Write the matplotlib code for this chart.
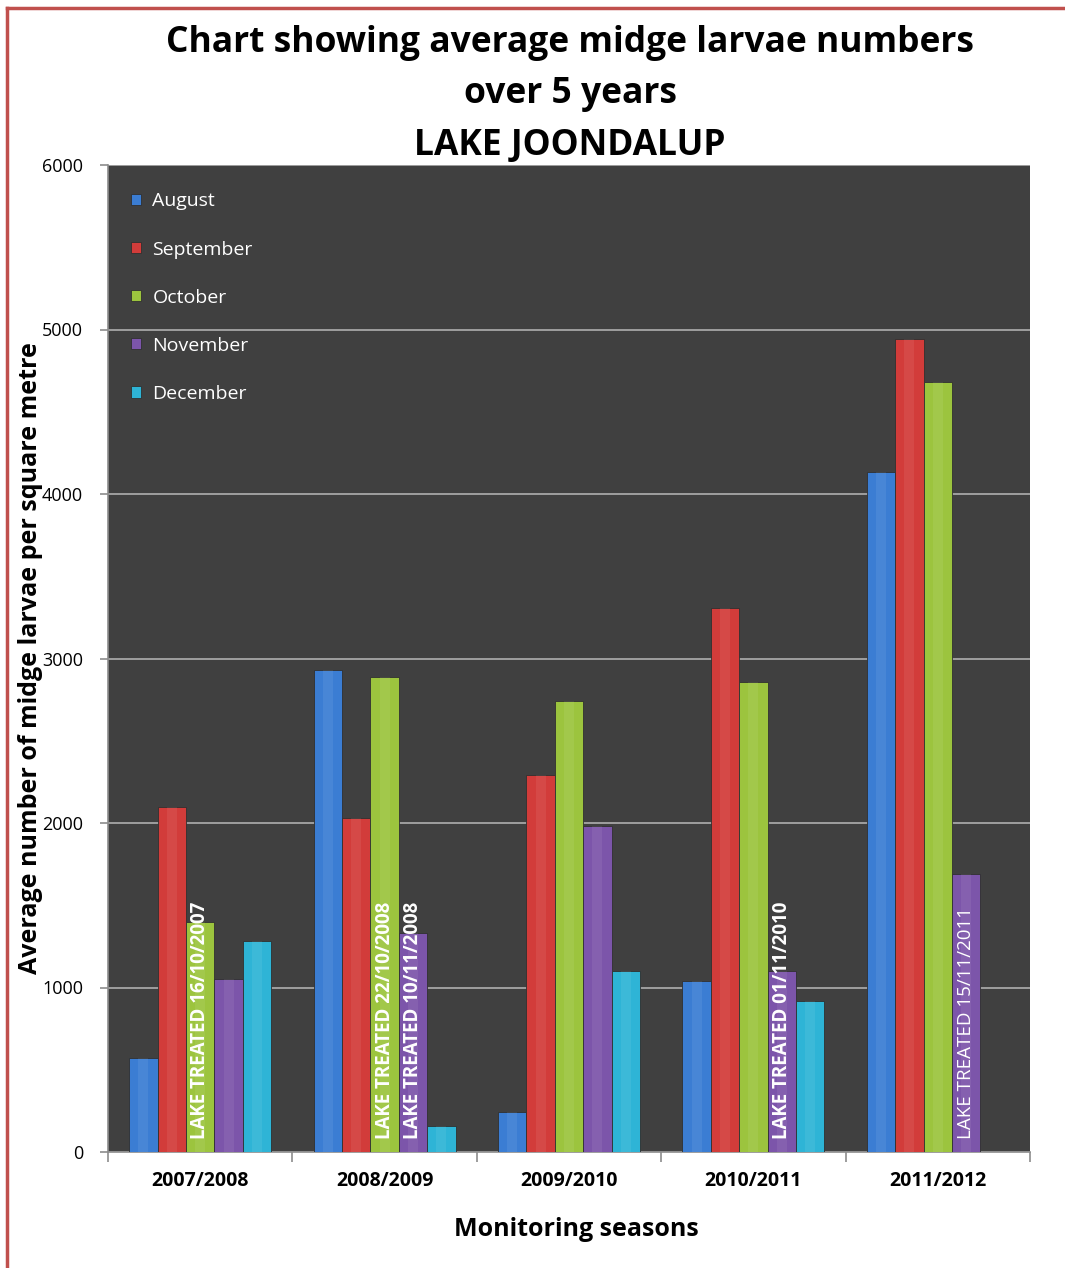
import matplotlib
matplotlib.use("Agg")
import matplotlib.pyplot as plt
import numpy as np
from matplotlib.lines import Line2D

seasons = ["2007/2008", "2008/2009", "2009/2010", "2010/2011", "2011/2012"]
months = ["August", "September", "October", "November", "December"]
august = [570, 2930, 245, 1040, 4135]
september = [2100, 2030, 2290, 3310, 4945]
october = [1400, 2890, 2740, 2855, 4680]
november = [1050, 1330, 1980, 1100, 1690]
december = [1280, 160, 1100, 920, 0]
series = [august, september, october, november, december]
colors = ["#3b7dd3", "#d23c3a", "#9cc43e", "#7c55aa", "#2eb4d6"]

# treatment notes: (season index, month index, text)
notes_season = [0, 1, 1, 3, 4]
notes_month = [2, 2, 3, 3, 3]
notes_text = ["LAKE TREATED 16/10/2007", "LAKE TREATED 22/10/2008",
              "LAKE TREATED 10/11/2008", "LAKE TREATED 01/11/2010",
              "LAKE TREATED 15/11/2011"]

FB = dict(family="Open Sans", fontweight="bold", fontstretch="condensed")

W, H = 1065, 1268
fig = plt.figure(figsize=(W / 100, H / 100), dpi=100)
fig.patch.set_facecolor("white")

ax = fig.add_axes([108 / W, 1 - 1152 / H, (1030 - 108) / W, (1152 - 165) / H])
ax.set_facecolor("#404040")

n = len(months)
bw = 1 / 6.5
x = np.arange(len(seasons))
for i, (vals, c) in enumerate(zip(series, colors)):
    pos = x + (i - (n - 1) / 2) * bw
    ax.bar(pos, vals, width=bw, color=c, edgecolor="#303030", linewidth=0.6,
           label=months[i], zorder=3)
    # simple highlight stripe to suggest the 3D bevel
    ax.bar(pos, vals, width=bw * 0.35, color="white", alpha=0.07,
           linewidth=0, zorder=4)

for si, mi, t in zip(notes_season, notes_month, notes_text):
    px = x[si] + (mi - (n - 1) / 2) * bw
    ax.text(px, 80, t, rotation=90, ha="center", va="bottom", color="white",
            fontsize=13.5, fontweight="bold" if si != 4 else "normal",
            family="Open Sans", zorder=6)

ax.set_xlim(-0.5, len(seasons) - 0.5)
ax.set_ylim(0, 6000)
ax.set_yticks(np.arange(0, 6001, 1000))
ax.set_yticklabels([str(v) for v in range(0, 6001, 1000)], family="Open Sans",
                   fontsize=13)
ax.yaxis.grid(True, color="#a6a6a6", linewidth=1.3, zorder=1)
ax.set_axisbelow(True)
ax.set_xticks(np.arange(-0.5, len(seasons), 1.0))
ax.set_xticklabels([])
ax.set_xticks(x, minor=True)
ax.set_xticklabels(seasons, minor=True, fontsize=14, **FB)
ax.tick_params(axis="x", which="minor", length=0, pad=14)
ax.tick_params(axis="x", which="major", length=7, color="#8c8c8c", width=1.2)
ax.tick_params(axis="y", length=6, color="#8c8c8c", width=1.2, pad=12)
for s in ["top", "right"]:
    ax.spines[s].set_visible(False)
ax.spines["left"].set_color("#8c8c8c")
ax.spines["bottom"].set_color("#8c8c8c")
ax.spines["left"].set_linewidth(1.2)
ax.spines["bottom"].set_linewidth(1.2)

ax.set_xlabel("Monitoring seasons", fontsize=18, **FB)
ax.xaxis.set_label_coords((576 - 108) / 922, (1152 - 1230) / 987)
ax.xaxis.label.set_va("center")
ax.set_ylabel("Average number of midge larvae per square metre", fontsize=18,
              **FB)
ax.yaxis.set_label_coords((31 - 108) / 922, (1152 - 658) / 987)
ax.yaxis.label.set_va("center")

leg = ax.legend(loc="upper left", frameon=False,
                labelcolor="white", handlelength=0.5, handleheight=0.5,
                handletextpad=0.6, labelspacing=1.55,
                bbox_to_anchor=(0.006, 0.99),
                prop={"family": "Open Sans", "size": 14})

for yy, t in [(43, "Chart showing average midge larvae numbers"),
              (94, "over 5 years"), (146, "LAKE JOONDALUP")]:
    fig.text(570 / W, 1 - yy / H, t, ha="center", va="center",
             fontsize=25.5, **FB)

# red frame (left and top edges)
fig.add_artist(Line2D([7 / W, 7 / W], [0, 1 - 8 / H], transform=fig.transFigure,
                      color="#c0504d", linewidth=2.5))
fig.add_artist(Line2D([7 / W, 1], [1 - 8 / H, 1 - 8 / H], transform=fig.transFigure,
                      color="#c0504d", linewidth=2.5))

fig.savefig("out.png", dpi=100)
